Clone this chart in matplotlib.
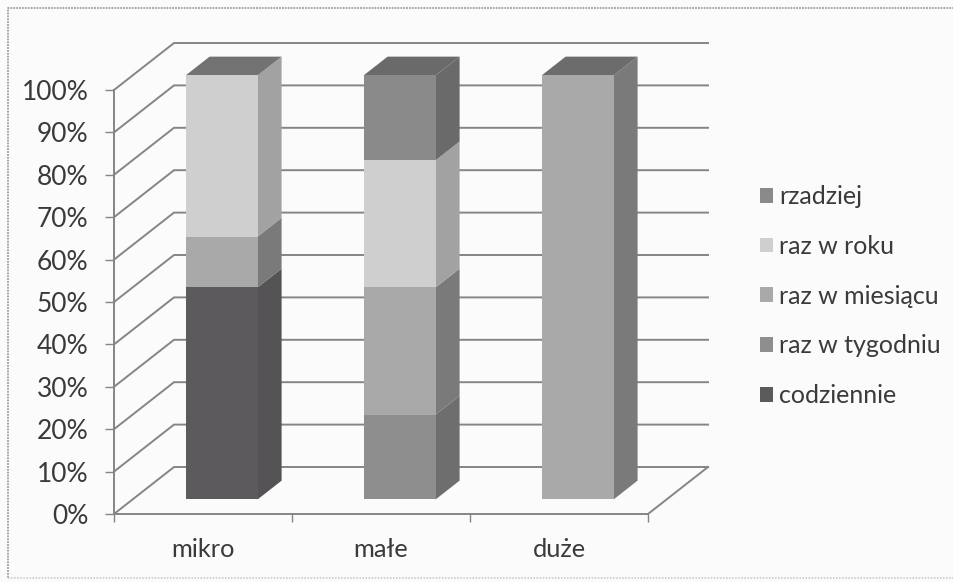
import matplotlib
matplotlib.use('Agg')
import matplotlib.pyplot as plt
from matplotlib.lines import Line2D
from matplotlib.patches import Polygon, Patch

categories = ['mikro', 'małe', 'duże']
series = ['codziennie', 'raz w tygodniu', 'raz w miesiącu', 'raz w roku', 'rzadziej']
codziennie = [50, 0, 0]
raz_w_tygodniu = [0, 20, 0]
raz_w_miesiacu = [12, 30, 100]
raz_w_roku = [38, 30, 0]
rzadziej = [0, 20, 0]
values = [codziennie, raz_w_tygodniu, raz_w_miesiacu, raz_w_roku, rzadziej]
y_ticks = list(range(0, 101, 10))

front_colors = ['#5c5a5c', '#8e8e8e', '#a9a9a9', '#cfcfcf', '#8a8a8a']
side_colors = ['#555355', '#6e6e6e', '#7a7a7a', '#a2a2a2', '#6a6a6a']
top_colors = ['#666466', '#777777', '#6c6c6c', '#727272', '#6a6a6a']

W, H = 954, 582
plt.rcParams['font.family'] = ['Lato', 'DejaVu Sans']
fig = plt.figure(figsize=(W / 100, H / 100), dpi=100, facecolor='#fbfbfb')

# front plane of the box: 114..648 px wide, 90..514 px down
ax = fig.add_axes([114 / W, 1 - 514 / H, 534 / W, 424 / H])
ax.set_xlim(0, 3)
ax.set_ylim(0, 100)
ax.patch.set_visible(False)

# oblique depth: one full depth step in data units
depth_x = 60 / 178
depth_y = 47 / 4.24
bar_d0, bar_d1 = 0.31, 0.71
bar_w = 72 / 178


def pt(x, y, d):
    return (x + d * depth_x, y + d * depth_y)


grid_c = '#858585'
for v in y_ticks:
    ax.plot(*zip(pt(0, v, 0), pt(0, v, 1), pt(3, v, 1)), color=grid_c, lw=1.4,
            clip_on=False, zorder=1, solid_joinstyle='miter')
ax.plot(*zip(pt(3, 0, 0), pt(3, 0, 1)), color=grid_c, lw=1.4, clip_on=False, zorder=1)

for i in range(len(categories)):
    x0 = i + (1 - bar_w) / 2
    x1 = x0 + bar_w
    bottom = 0
    last = 0
    for s in range(len(series)):
        v = values[s][i]
        if v == 0:
            continue
        top = bottom + v
        ax.add_patch(Polygon([pt(x1, bottom, bar_d0), pt(x1, top, bar_d0), pt(x1, top, bar_d1), pt(x1, bottom, bar_d1)],
                             fc=side_colors[s], ec='none', clip_on=False, zorder=3))
        ax.add_patch(Polygon([pt(x0, bottom, bar_d0), pt(x1, bottom, bar_d0), pt(x1, top, bar_d0), pt(x0, top, bar_d0)],
                             fc=front_colors[s], ec='none', clip_on=False, zorder=4))
        bottom = top
        last = s
    ax.add_patch(Polygon([pt(x0, bottom, bar_d0), pt(x1, bottom, bar_d0), pt(x1, bottom, bar_d1), pt(x0, bottom, bar_d1)],
                         fc=top_colors[last], ec='none', clip_on=False, zorder=3))

for name in ['top', 'right']:
    ax.spines[name].set_visible(False)
for name in ['left', 'bottom']:
    ax.spines[name].set_color(grid_c)
    ax.spines[name].set_linewidth(1.4)
    ax.spines[name].set_zorder(2)

ax.set_yticks(y_ticks)
ax.set_yticklabels([str(v) + '%' for v in y_ticks])
ax.set_xticks(range(4))
ax.set_xticklabels([])
ax.set_xticks([i + 0.5 for i in range(3)], minor=True)
ax.set_xticklabels(categories, minor=True)
ax.tick_params(axis='x', which='minor', length=0, labelsize=18.3, labelcolor='#3a3a3a', pad=17)
ax.tick_params(axis='x', which='major', length=6, width=1, color=grid_c)
ax.tick_params(axis='y', length=6.5, width=1, color=grid_c, labelsize=19, labelcolor='#3a3a3a', pad=12)

handles = [Patch(fc=front_colors[s], ec='none') for s in reversed(range(len(series)))]
ax.legend(handles, list(reversed(series)), loc='center left', bbox_to_anchor=(760 / W, 1 - 296 / H),
          bbox_transform=fig.transFigure, frameon=False, fontsize=18, labelcolor='#3a3a3a',
          handlelength=0.53, handleheight=0.53, handletextpad=0.25, labelspacing=1.07,
          borderpad=0, borderaxespad=0)

# scan frame: left, top and bottom only, running off the right edge
fig.add_artist(Line2D([1, 8 / W, 8 / W], [1 - 8 / H, 1 - 8 / H, 1 - 578 / H], transform=fig.transFigure,
                      color='#a0a0a0', lw=1.3, ls=(0, (1, 0.6))))
fig.add_artist(Line2D([8 / W, 1], [1 - 578 / H, 1 - 578 / H], transform=fig.transFigure,
                      color='#c4c4c4', lw=1.1, ls=(0, (1, 1))))

fig.savefig('out.png', dpi=100, facecolor=fig.get_facecolor())
